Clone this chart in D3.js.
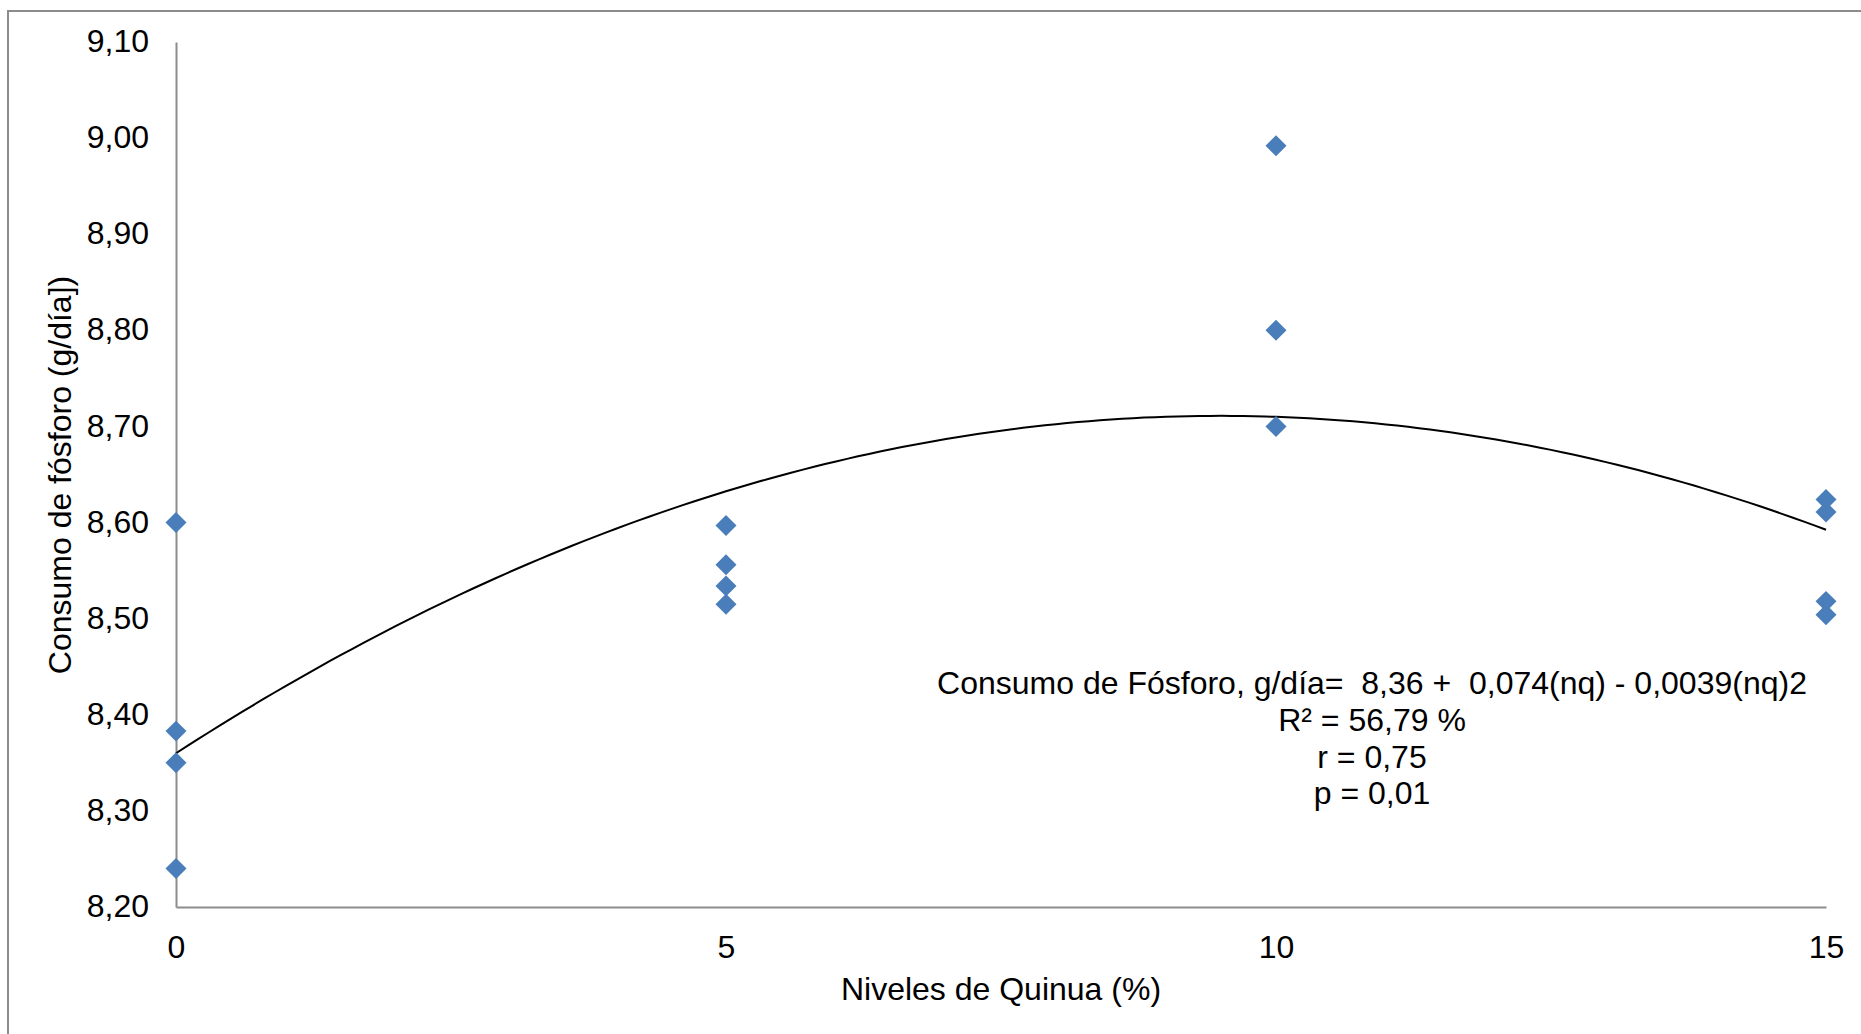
<!DOCTYPE html>
<html>
<head>
<meta charset="utf-8">
<script src="https://cdn.jsdelivr.net/npm/d3@7"></script>
<style>
  html, body { margin: 0; padding: 0; background: #fff; }
  svg { display: block; }
  text { font-family: "Liberation Sans", Arial, sans-serif; fill: #000; }
</style>
</head>
<body>
<svg id="chart" width="1861" height="1034"></svg>
<script>
// Quinoa level (%) for each observation
const niveles = [0, 0, 0, 0, 5, 5, 5, 5, 10, 10, 10, 15, 15, 15, 15];
// Phosphorus intake (g/day) for each observation
const consumo = [8.60, 8.383, 8.350, 8.240, 8.597, 8.556, 8.534, 8.515, 8.992, 8.800, 8.700, 8.624, 8.611, 8.518, 8.504];

// Quadratic fit: y = b0 + b1*x + b2*x^2
const coef = [8.36, 0.074, -0.0039];

const xTicks = [0, 5, 10, 15];
const yTicks = [8.2, 8.3, 8.4, 8.5, 8.6, 8.7, 8.8, 8.9, 9.0, 9.1];

const ecuacion = [
  "Consumo de Fósforo, g/día=  8,36 +  0,074(nq) - 0,0039(nq)2",
  "R² = 56,79 %",
  "r = 0,75",
  "p = 0,01"
];
const tituloX = "Niveles de Quinua (%)";
const tituloY = "Consumo de fósforo (g/día])";

const svg = d3.select("#chart");
const plotLeft = 176, plotRight = 1826, plotTop = 42, plotBottom = 907;

const x = d3.scaleLinear().domain([0, 15]).range([plotLeft, plotRight]);
const y = d3.scaleLinear().domain([8.2, 9.1]).range([plotBottom, plotTop]);
const fmt = v => d3.format(".2f")(v).replace(".", ",");

// Chart area frame
svg.append("rect")
  .attr("x", 8).attr("y", 11)
  .attr("width", 2000).attr("height", 2000)
  .attr("fill", "none")
  .attr("stroke", "#8c8c8c")
  .attr("stroke-width", 2);

// Axes
const axisColor = "#8c8c8c";
const gx = svg.append("g").attr("transform", `translate(0,${plotBottom})`)
  .call(d3.axisBottom(x).tickValues(xTicks).tickSize(0).tickPadding(0).tickFormat(d3.format("d")));
gx.select(".domain").attr("stroke", axisColor).attr("stroke-width", 2);
gx.selectAll("text")
  .attr("font-size", 32)
  .attr("font-family", "Liberation Sans, Arial, sans-serif")
  .attr("fill", "#000")
  .attr("dy", null)
  .attr("y", 51);

const gy = svg.append("g").attr("transform", `translate(${plotLeft},0)`)
  .call(d3.axisLeft(y).tickValues(yTicks).tickSize(0).tickPadding(0).tickFormat(fmt));
gy.select(".domain").attr("stroke", axisColor).attr("stroke-width", 2);
gy.selectAll("text")
  .attr("font-size", 32)
  .attr("font-family", "Liberation Sans, Arial, sans-serif")
  .attr("fill", "#000")
  .attr("x", -27)
  .attr("dy", "0.3em");

// Fitted curve
const curveX = d3.range(0, 15.0001, 0.1);
const line = d3.line()
  .x(d => x(d))
  .y(d => y(coef[0] + coef[1] * d + coef[2] * d * d));
svg.append("path")
  .datum(curveX)
  .attr("d", line)
  .attr("fill", "none")
  .attr("stroke", "#000")
  .attr("stroke-width", 2);

// Observations (diamond markers)
const diamond = d3.symbol().type(d3.symbolSquare).size(220);
svg.append("g").selectAll("path")
  .data(niveles.map((n, i) => [n, consumo[i]]))
  .join("path")
  .attr("d", diamond)
  .attr("transform", d => `translate(${x(d[0])},${y(d[1])}) rotate(45)`)
  .attr("fill", "#4A7EBB");

// Equation and statistics
const eq = svg.append("text")
  .attr("x", 1372)
  .attr("y", 694)
  .attr("text-anchor", "middle")
  .attr("font-size", 32);
eq.selectAll("tspan")
  .data(ecuacion)
  .join("tspan")
  .attr("x", 1372)
  .attr("dy", (d, i) => i === 0 ? 0 : 36.8)
  .attr("xml:space", "preserve")
  .style("white-space", "pre")
  .text(d => d);

// Axis titles
svg.append("text")
  .attr("x", (plotLeft + plotRight) / 2)
  .attr("y", 1000)
  .attr("text-anchor", "middle")
  .attr("font-size", 32)
  .text(tituloX);

svg.append("text")
  .attr("transform", "translate(71,475) rotate(-90)")
  .attr("text-anchor", "middle")
  .attr("font-size", 32)
  .text(tituloY);
</script>
</body>
</html>
